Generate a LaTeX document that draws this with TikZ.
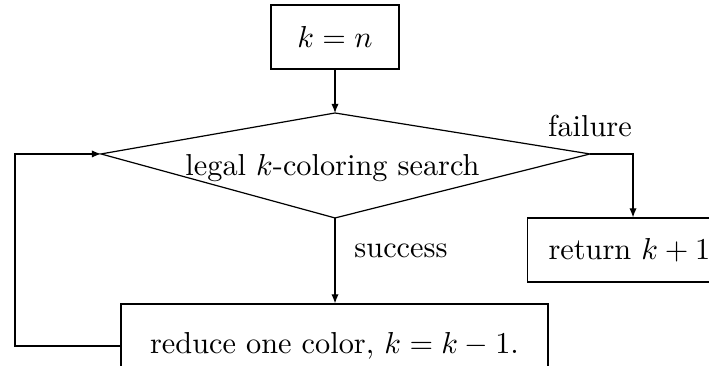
\documentclass[tikz,border=0pt]{standalone}
\usepackage{tikz}
\usetikzlibrary{arrows.meta, positioning, calc}
\tikzset{
  box/.style={rectangle, draw, align=center, inner sep=2pt},
  arrow/.style={-{Latex[length=3pt,width=2.4pt]}},
  lbl/.style={inner sep=2pt}
}

\begin{document}
\begin{tikzpicture}
  \useasboundingbox (0,0) rectangle (8.22,-4.232);
  \clip (0,0) rectangle (8.22,-4.232);

  \node[box, minimum width=1.484cm, minimum height=0.742cm] (start) at (3.884,-0.429) {$k=n$};

  % decision
  \coordinate (dL) at (1.171,-1.785);
  \coordinate (dR) at (6.840,-1.785);
  \coordinate (dT) at (3.884,-1.310);
  \coordinate (dB) at (3.884,-2.527);
  \draw (dL) -- (dT) -- (dR) -- (dB) -- cycle;
  \node (search) at (3.855,-1.95) {legal $k$-coloring search};

  \node[box, anchor=west, align=left, inner xsep=0.243cm, text width=2.3cm,
    minimum height=0.742cm] (ret) at (6.110,-2.899) {return $k+1$};
  \node[box, minimum width=4.951cm, minimum height=0.974cm] (reduce) at (3.878,-4.012) {reduce one color, $k=k-1$.};

  \node[lbl, above=0.12cm of dR] (fail) {failure};
  \node[lbl] (succ) at (4.649,-2.910) {success};

  \coordinate (back) at (0.174,-4.012);
  \coordinate (drop) at (7.339,-2.3);

  \draw[arrow] (start) -- (dT);
  \draw[arrow] (dR) -| (drop |- ret.north);
  \draw[arrow] (dB) -- (dB |- reduce.north);
  \draw[arrow] (reduce.west) -- (back) |- (dL);
\end{tikzpicture}
\end{document}
